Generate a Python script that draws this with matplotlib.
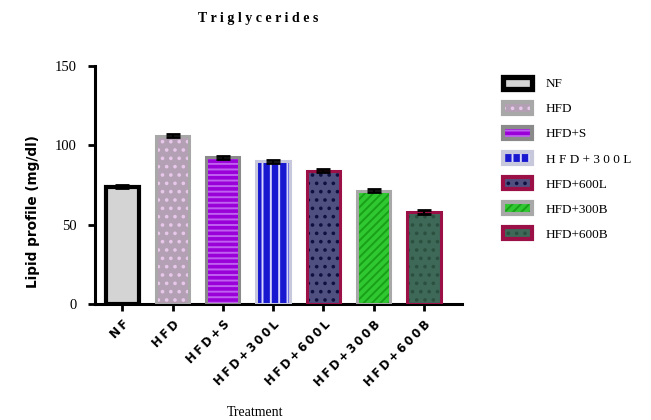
import matplotlib
matplotlib.use('Agg')
import matplotlib.pyplot as plt
from matplotlib.patches import Patch
from matplotlib.legend_handler import HandlerTuple

# Triglyceride levels per treatment group (mg/dl)
groups = ['NF', 'HFD', 'HFD+S', 'HFD+300L', 'HFD+600L', 'HFD+300B', 'HFD+600B']
legend_labels = ['NF', 'HFD', 'HFD+S', 'H F D + 3 0 0 L', 'HFD+600L', 'HFD+300B', 'HFD+600B']
triglycerides = [74, 106, 92.5, 90, 84, 71.5, 58]
sem = [1.0, 1.0, 1.0, 1.0, 1.0, 1.0, 1.0]

# fill colour, hatch colour, hatch pattern, edge colour, edge width
styles = [
    ('#d4d4d4', None, None, '#000000', 3.0),
    ('#b4a0b4', '#e8c8ea', '..', '#a8a8a8', 2.2),
    ('#9a00d8', '#c060f0', '---', '#8a8a8a', 2.2),
    ('#1818d0', '#d8d8ff', '||', '#c8c8dc', 2.2),
    ('#505080', '#101040', '..', '#9c1048', 2.2),
    ('#30c830', '#18a018', '////', '#a8a8a8', 2.2),
    ('#3e6858', '#2c5040', '..', '#9c1048', 2.2),
]

plt.rcParams['hatch.linewidth'] = 1.4

fig = plt.figure(figsize=(6.51, 4.2), dpi=100)
ax = fig.add_axes([0.146, 0.276, 0.564, 0.567])

xs = list(range(len(groups)))
w = 0.66
handles = []
for x, v, (fc, hc, hatch, ec, lw) in zip(xs, triglycerides, styles):
    ax.bar(x, v, width=w, color=fc, linewidth=0, zorder=2)
    if hatch:
        ax.bar(x, v, width=w, facecolor='none', edgecolor=hc, hatch=hatch,
               linewidth=0, zorder=3)
    ax.bar(x, v, width=w, facecolor='none', edgecolor=ec, linewidth=lw, zorder=4)
    parts = [Patch(facecolor=fc, linewidth=0)]
    if hatch:
        parts.append(Patch(facecolor='none', edgecolor=hc, hatch=hatch, linewidth=0))
    parts.append(Patch(facecolor='none', edgecolor=ec, linewidth=lw + 0.8))
    handles.append(tuple(parts))

ax.errorbar(xs, triglycerides, yerr=sem, fmt='none', ecolor='black',
            elinewidth=1.5, capsize=5, capthick=2, zorder=5)

ax.set_xlim(-0.54, 6.76)
ax.set_ylim(0, 150)
ax.set_yticks([0, 50, 100, 150])
ax.set_xticks(xs)
# spaced-out group names under the bars
ax.set_xticklabels(['\u2009'.join(g) for g in groups], rotation=45, ha='right',
                   rotation_mode='anchor', fontsize=8.5, fontweight='bold',
                   family='DejaVu Sans')
for lbl in ax.get_yticklabels():
    lbl.set_family('Liberation Serif')
    lbl.set_fontsize(10.5)

for side in ['top', 'right']:
    ax.spines[side].set_visible(False)
for side in ['left', 'bottom']:
    ax.spines[side].set_linewidth(2.2)
ax.tick_params(axis='both', width=2, length=5, direction='out')
ax.tick_params(axis='y', pad=8)
ax.tick_params(axis='x', pad=5)

ax.set_ylabel('Lipid profile (mg/dl)', fontsize=9.8, fontweight='bold',
              family='DejaVu Sans')
ax.yaxis.set_label_coords(-0.15, 0.39)
fig.text(0.392, 0.017, 'Treatment', ha='center', va='center',
         fontsize=10, family='Liberation Serif')
fig.text(0.397, 0.957, 'T r i g l y c e r i d e s', ha='center', va='center',
         fontsize=10, fontweight='bold', family='Liberation Serif')

fig.legend(handles, legend_labels, handler_map={tuple: HandlerTuple(ndivide=1, pad=0)},
           loc='upper left', bbox_to_anchor=(0.755, 0.845), frameon=False,
           prop={'family': 'Liberation Serif', 'size': 9.5},
           handlelength=2.2, handleheight=1.0, labelspacing=0.88, handletextpad=1.0)

plt.savefig('out.png', dpi=100)
